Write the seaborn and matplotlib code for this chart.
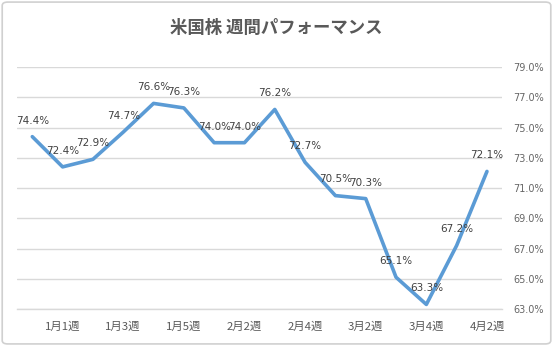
import matplotlib
matplotlib.use("Agg")
import matplotlib.pyplot as plt
import seaborn as sns
import pandas as pd
from matplotlib.patches import FancyBboxPatch
from matplotlib.ticker import FuncFormatter

weeks = ["12月4週", "1月1週", "1月2週", "1月3週", "1月4週", "1月5週", "2月1週", "2月2週",
         "2月3週", "2月4週", "3月1週", "3月2週", "3月3週", "3月4週", "4月1週", "4月2週"]
performance = [74.4, 72.4, 72.9, 74.7, 76.6, 76.3, 74.0, 74.0,
               76.2, 72.7, 70.5, 70.3, 65.1, 63.3, 67.2, 72.1]
y_ticks = [63, 65, 67, 69, 71, 73, 75, 77, 79]
title = "米国株 週間パフォーマンス"

sns.set_theme(style="white")
plt.rcParams['font.family'] = ['Noto Sans CJK JP', 'DejaVu Sans']

df = pd.DataFrame({"week": weeks, "perf": performance})
df["pos"] = range(len(df))

fig = plt.figure(figsize=(5.53, 3.46), dpi=100)
ax = fig.add_axes([0.031, 0.107, 0.877, 0.699])

sns.lineplot(data=df, x="pos", y="perf", ax=ax, color="#5B9BD5", linewidth=2.6, sort=False)

for x, y in zip(df["pos"], df["perf"]):
    ax.annotate(f"{y:.1f}%", (x, y), xytext=(0, 8), textcoords="offset points",
                ha="center", va="bottom", fontsize=7.5, color="#404040",
                family="DejaVu Sans")

ax.set_xlim(-0.5, len(weeks) - 0.5)
ax.set_ylim(63, 79)
ax.set_yticks(y_ticks)
ax.yaxis.set_major_formatter(FuncFormatter(lambda v, p: f"{v:.1f}%"))
ax.yaxis.tick_right()
ax.set_xticks(list(range(1, len(weeks), 2)))
ax.set_xticklabels([weeks[i] for i in range(1, len(weeks), 2)])
ax.tick_params(axis="y", length=0, pad=8, labelsize=7, labelcolor="#666666")
ax.tick_params(axis="x", length=0, pad=9, labelsize=8.2, labelcolor="#595959")
for lab in ax.get_yticklabels():
    lab.set_family("DejaVu Sans")
ax.grid(axis="y", color="#D9D9D9", linewidth=1)
ax.set_axisbelow(True)
for s in ["top", "left", "right"]:
    ax.spines[s].set_visible(False)
ax.spines["bottom"].set_color("#D9D9D9")
ax.spines["bottom"].set_linewidth(1)
ax.set_xlabel("")
ax.set_ylabel("")

fig.text(0.5, 0.92, title, ha="center", va="center", fontsize=12.5,
         fontweight="bold", color="#595959")

border = FancyBboxPatch((0.004, 0.006), 0.992, 0.988, boxstyle="round,pad=0,rounding_size=0.01",
                        transform=fig.transFigure, fill=False, edgecolor="#D0D0D0", linewidth=1.2)
fig.patches.append(border)

fig.savefig("out.png", dpi=100)
